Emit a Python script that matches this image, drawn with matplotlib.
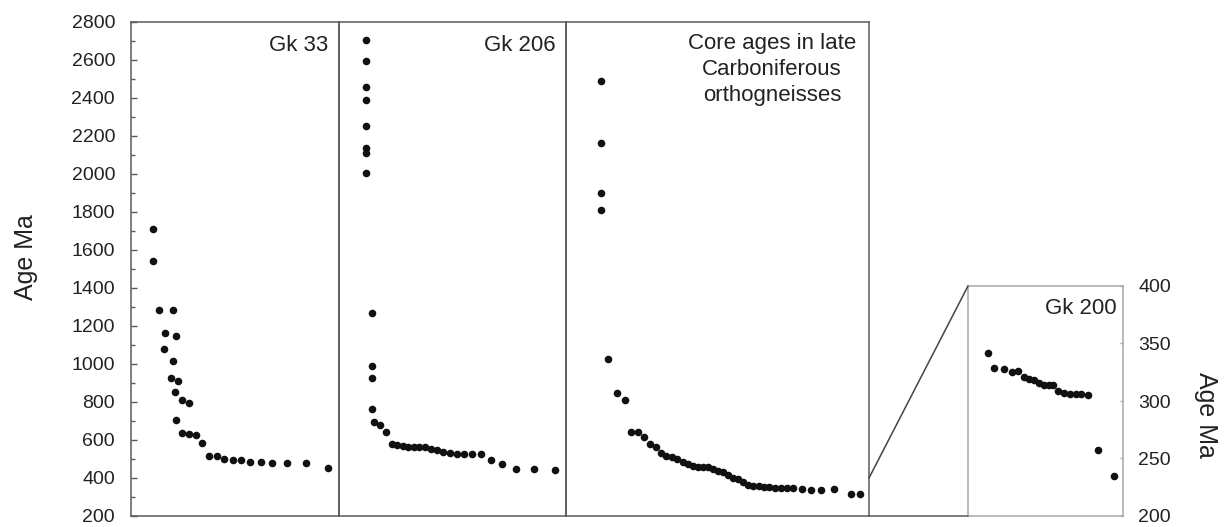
import matplotlib
matplotlib.use("Agg")
import matplotlib.pyplot as plt
from matplotlib.patches import ConnectionPatch
from matplotlib.ticker import MultipleLocator

plt.rcParams["font.family"] = ["Liberation Sans", "DejaVu Sans"]

# Zircon spot ages (Ma), ranked; position = relative rank within each sample (0-100)
gk33_pos = [10.7, 10.7, 13.5, 20.3, 16.3, 21.5, 15.9, 20.0, 19.1, 22.7, 21.2, 24.5,
            28.0, 21.5, 24.5, 28.0, 31.3, 34.3, 37.6, 41.2, 44.9, 48.9, 52.7, 57.2,
            62.4, 67.9, 74.9, 84.0, 94.6]
gk33_age = [1710, 1540, 1284, 1284, 1161, 1147, 1079, 1017, 925, 910, 854, 810,
            796, 705, 635, 630, 626, 586, 516, 516, 500, 495, 495, 486,
            483, 481, 479, 479, 451]

gk206_pos = [11.8, 11.8, 11.8, 11.8, 11.8, 11.8, 11.8, 11.8, 14.4, 14.4, 14.4, 14.4,
             15.6, 18.1, 20.7, 23.2, 25.4, 28.1, 30.5, 33.0, 35.4, 37.9, 40.5, 43.0,
             45.9, 48.9, 51.9, 55.2, 58.7, 62.4, 66.8, 71.7, 77.8, 85.9, 95.2]
gk206_age = [2705, 2595, 2459, 2389, 2254, 2138, 2109, 2004, 1270, 991, 926, 762,
             693, 680, 644, 579, 573, 568, 565, 565, 565, 565, 551, 547,
             538, 530, 525, 525, 525, 525, 493, 475, 447, 447, 444]

core_pos = [11.6, 11.6, 11.6, 11.6, 13.8, 16.7, 19.5, 21.5, 23.9, 25.8, 27.7, 29.6,
            31.3, 33.0, 34.9, 36.7, 38.5, 40.4, 42.0, 43.7, 45.3, 47.0, 48.6, 50.3,
            51.9, 53.6, 55.2, 56.9, 58.3, 60.2, 61.8, 63.7, 65.3, 67.1, 69.0, 70.9,
            72.8, 75.0, 77.8, 80.8, 84.2, 88.4, 94.1, 97.0]
core_age = [2489, 2161, 1902, 1811, 1025, 849, 811, 644, 640, 617, 579, 565,
            530, 516, 512, 498, 483, 472, 465, 459, 459, 456, 446, 438,
            433, 416, 402, 393, 381, 363, 359, 358, 354, 351, 349, 346,
            346, 346, 340, 337, 337, 340, 316, 316]

gk200_pos = [12.7, 17.0, 23.2, 28.2, 32.5, 36.1, 39.5, 42.6, 45.8, 49.0, 52.3, 55.0,
             58.3, 61.9, 65.8, 69.5, 72.7, 77.6, 83.7, 94.2]
gk200_age = [342, 329, 328, 325, 326, 321, 319, 318, 316, 314, 314, 313.5,
             308.6, 307, 306, 306, 305.7, 305, 257.6, 235]

main_ticks = list(range(200, 2801, 200))
inset_ticks = [200, 250, 300, 350, 400]

frame_col = "#5a5a5a"
inset_col = "#a8a8a8"
dot_col = "#111111"
text_col = "#222222"

W, H = 1225, 527
fig = plt.figure(figsize=(W / 100, H / 100), dpi=100)


def px_axes(x0, x1, ytop, ybot):
    return fig.add_axes([x0 / W, (H - ybot) / H, (x1 - x0) / W, (ybot - ytop) / H])


ax1 = px_axes(131, 339, 22, 516)
ax2 = px_axes(339, 566, 22, 516)
ax3 = px_axes(566, 869, 22, 516)
axi = px_axes(968, 1123, 286, 516)

panels = [(ax1, gk33_pos, gk33_age), (ax2, gk206_pos, gk206_age), (ax3, core_pos, core_age)]
for ax, xs, ys in panels:
    ax.scatter(xs, ys, s=30, color=dot_col, linewidths=0, zorder=3)
    ax.set_xlim(0, 100)
    ax.set_ylim(main_ticks[0], main_ticks[-1])
    ax.set_xticks([])
    for sp in ax.spines.values():
        sp.set_color(frame_col)
        sp.set_linewidth(1.1)
    ax.patch.set_alpha(0)

for ax in (ax2, ax3):
    ax.set_yticks([])

ax1.set_yticks(main_ticks)
ax1.yaxis.set_minor_locator(MultipleLocator(100))
ax1.tick_params(axis="y", which="both", direction="in", color=frame_col,
                labelsize=14, labelcolor=text_col, pad=11.5)
ax1.tick_params(axis="y", which="major", length=4, width=1)
ax1.tick_params(axis="y", which="minor", length=3, width=1)
ax1.set_ylabel("Age Ma", fontsize=18, color=text_col, labelpad=24)
ax1.yaxis.label.set_y(0.525)

ax1.text(0.95, 0.953, "Gk 33", transform=ax1.transAxes, ha="right", va="center",
         fontsize=16, color=text_col)
ax2.text(0.955, 0.953, "Gk 206", transform=ax2.transAxes, ha="right", va="center",
         fontsize=16, color=text_col)
ax3.text(0.68, 0.904, "Core ages in late\nCarboniferous\northogneisses",
         transform=ax3.transAxes, ha="center", va="center", fontsize=16,
         linespacing=1.3, color=text_col)

# Gk 200 inset on its own 200-400 Ma scale
axi.scatter(gk200_pos, gk200_age, s=30, color=dot_col, linewidths=0, zorder=3)
axi.set_xlim(0, 100)
axi.set_ylim(inset_ticks[0], inset_ticks[-1])
axi.set_xticks([])
axi.yaxis.tick_right()
axi.yaxis.set_label_position("right")
axi.set_yticks(inset_ticks)
axi.tick_params(axis="y", direction="in", length=2.5, width=1, color=inset_col,
                labelsize=14, labelcolor=text_col, pad=11)
axi.set_ylabel("Age Ma", fontsize=18, color=text_col, rotation=270, labelpad=34)
axi.yaxis.label.set_y(0.44)
for sp in axi.spines.values():
    sp.set_color(inset_col)
    sp.set_linewidth(1.1)
axi.text(0.96, 0.90, "Gk 200", transform=axi.transAxes, ha="right", va="center",
         fontsize=16, color=text_col)

# zoom guides linking the 200-400 Ma band to the inset
top_link = ConnectionPatch(xyA=(100, 400), coordsA=ax3.transData,
                           xyB=(0, 400), coordsB=axi.transData,
                           color="#444444", lw=1.1)
bot_link = ConnectionPatch(xyA=(100, 200), coordsA=ax3.transData,
                           xyB=(0, 200), coordsB=axi.transData,
                           color=frame_col, lw=1.1)
fig.add_artist(top_link)
fig.add_artist(bot_link)

fig.savefig("out.png", dpi=100)
